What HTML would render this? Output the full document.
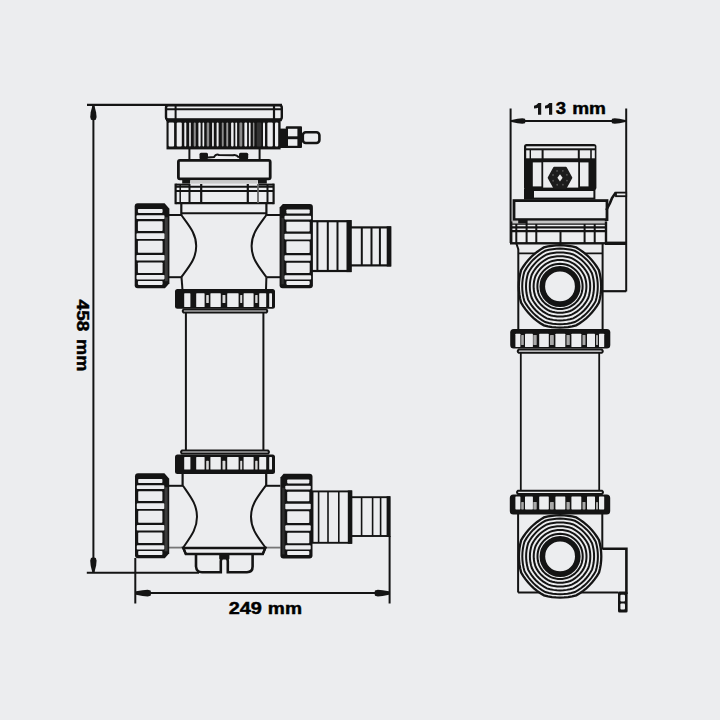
<!DOCTYPE html>
<html><head><meta charset="utf-8"><style>
html,body{margin:0;padding:0;background:#ecedef;}
svg{display:block;}
</style></head><body>
<svg width="720" height="720" viewBox="0 0 720 720">
<rect width="720" height="720" fill="#ecedef"/>
<line x1="87.00" y1="104.90" x2="282.00" y2="104.90" stroke="#141414" stroke-width="2.1"/>
<line x1="93.40" y1="105.00" x2="93.40" y2="572.60" stroke="#141414" stroke-width="2.0"/>
<polygon points="92.30,106.00 90.71,112.17 90.20,116.96 90.97,119.70 93.40,120.30 95.83,119.70 96.60,116.96 96.09,112.17 94.50,106.00" fill="#141414"/>
<polygon points="94.50,572.00 96.09,565.65 96.60,560.72 95.83,557.90 93.40,557.30 90.97,557.90 90.20,560.72 90.71,565.65 92.30,572.00" fill="#141414"/>
<line x1="86.80" y1="572.70" x2="199.00" y2="572.70" stroke="#141414" stroke-width="2.0"/>
<line x1="135.30" y1="558.00" x2="135.30" y2="603.50" stroke="#141414" stroke-width="2.0"/>
<line x1="389.60" y1="536.00" x2="389.60" y2="603.50" stroke="#141414" stroke-width="2.0"/>
<line x1="135.30" y1="593.00" x2="389.60" y2="593.00" stroke="#141414" stroke-width="2.0"/>
<polygon points="136.00,594.85 142.57,595.96 147.68,596.50 150.60,595.68 151.20,593.10 150.60,590.52 147.68,589.70 142.57,590.24 136.00,591.35" fill="#141414"/>
<polygon points="389.00,591.35 382.70,590.24 377.80,589.70 375.00,590.52 374.40,593.10 375.00,595.68 377.80,596.50 382.70,595.96 389.00,594.85" fill="#141414"/>
<rect x="166.00" y="105.20" width="115.80" height="14.60" rx="2.5" fill="#ecedef" stroke="#141414" stroke-width="2.4"/>
<line x1="166.50" y1="109.20" x2="281.30" y2="109.20" stroke="#141414" stroke-width="2.0"/>
<line x1="175.60" y1="105.00" x2="175.60" y2="119.80" stroke="#141414" stroke-width="2.0"/>
<line x1="274.00" y1="105.00" x2="274.00" y2="119.80" stroke="#141414" stroke-width="2.2"/>
<rect x="166.00" y="118.40" width="115.80" height="2.80" rx="0" fill="#141414"/>
<rect x="166.50" y="119.50" width="114.10" height="29.90" rx="0" fill="#141414"/>
<rect x="168.60" y="122.40" width="5.50" height="24.00" rx="1" fill="#ecedef"/>
<rect x="176.70" y="122.40" width="5.10" height="24.00" rx="1" fill="#ecedef"/>
<rect x="184.30" y="122.40" width="2.00" height="24.00" rx="1" fill="#ecedef"/>
<rect x="189.20" y="122.40" width="1.60" height="24.00" rx="1" fill="#ecedef"/>
<rect x="193.70" y="122.40" width="2.10" height="24.00" rx="1" fill="#8a8a8a"/>
<rect x="198.40" y="122.40" width="2.20" height="24.00" rx="1" fill="#ecedef"/>
<rect x="202.50" y="122.40" width="1.70" height="24.00" rx="1" fill="#ecedef"/>
<rect x="206.70" y="122.40" width="2.50" height="24.00" rx="1" fill="#8a8a8a"/>
<rect x="212.10" y="122.40" width="1.70" height="24.00" rx="1" fill="#ecedef"/>
<rect x="216.60" y="122.40" width="2.00" height="24.00" rx="1" fill="#ecedef"/>
<rect x="221.80" y="122.40" width="1.90" height="24.00" rx="1" fill="#8a8a8a"/>
<rect x="226.30" y="122.40" width="1.90" height="24.00" rx="1" fill="#9a9a9a"/>
<rect x="231.10" y="122.40" width="2.50" height="24.00" rx="1" fill="#ecedef"/>
<rect x="235.30" y="122.40" width="1.80" height="24.00" rx="1" fill="#ecedef"/>
<rect x="239.40" y="122.40" width="2.90" height="24.00" rx="1" fill="#8a8a8a"/>
<rect x="244.40" y="122.40" width="2.70" height="24.00" rx="1" fill="#ecedef"/>
<rect x="248.90" y="122.40" width="1.70" height="24.00" rx="1" fill="#ecedef"/>
<rect x="252.90" y="122.40" width="1.50" height="24.00" rx="1" fill="#8a8a8a"/>
<rect x="256.70" y="122.40" width="4.60" height="24.00" rx="1" fill="#333"/>
<rect x="263.00" y="122.40" width="2.00" height="24.00" rx="1" fill="#ecedef"/>
<rect x="267.40" y="122.40" width="5.40" height="24.00" rx="1" fill="#ecedef"/>
<rect x="275.00" y="122.40" width="3.20" height="24.00" rx="1" fill="#ecedef"/>
<rect x="279.00" y="128.60" width="8.00" height="19.40" rx="0" fill="#141414"/>
<rect x="285.80" y="126.30" width="16.20" height="21.70" rx="1" fill="#141414"/>
<rect x="288.00" y="128.80" width="9.40" height="7.50" rx="0" fill="#ecedef"/>
<rect x="288.00" y="139.20" width="9.40" height="6.60" rx="0" fill="#ecedef"/>
<rect x="302.80" y="132.20" width="16.60" height="10.80" rx="3" fill="#ecedef" stroke="#141414" stroke-width="2.6"/>
<line x1="189.40" y1="148.00" x2="189.40" y2="160.00" stroke="#141414" stroke-width="2.0"/>
<line x1="259.60" y1="148.00" x2="259.60" y2="160.00" stroke="#141414" stroke-width="2.0"/>
<rect x="199.50" y="152.80" width="8.50" height="6.70" rx="1.5" fill="#141414"/>
<rect x="239.00" y="152.80" width="9.20" height="6.70" rx="1.5" fill="#141414"/>
<path d="M208,157.5 L214,157 Q216,153.5 219,155 L233,155.2 Q236,154 239,157.5" fill="none" stroke="#141414" stroke-width="2.0" />
<rect x="178.40" y="160.40" width="91.80" height="18.40" rx="1.5" fill="#ecedef" stroke="#141414" stroke-width="2.8"/>
<rect x="182.20" y="178.00" width="8.00" height="5.50" rx="0" fill="#141414"/>
<rect x="258.00" y="178.00" width="8.80" height="5.50" rx="0" fill="#141414"/>
<rect x="190.50" y="180.20" width="67.00" height="3.40" rx="0" fill="#c9c9c9"/>
<line x1="175.60" y1="184.60" x2="190.00" y2="184.60" stroke="#141414" stroke-width="2.0"/>
<line x1="258.00" y1="184.60" x2="273.60" y2="184.60" stroke="#141414" stroke-width="2.0"/>
<line x1="175.60" y1="186.70" x2="273.60" y2="186.70" stroke="#141414" stroke-width="2.0"/>
<line x1="175.60" y1="191.10" x2="273.60" y2="191.10" stroke="#141414" stroke-width="2.0"/>
<line x1="175.60" y1="203.20" x2="273.60" y2="203.20" stroke="#141414" stroke-width="2.2"/>
<line x1="175.60" y1="183.60" x2="175.60" y2="204.20" stroke="#141414" stroke-width="2.2"/>
<line x1="273.60" y1="183.60" x2="273.60" y2="204.20" stroke="#141414" stroke-width="2.2"/>
<line x1="180.20" y1="184.00" x2="180.20" y2="203.00" stroke="#141414" stroke-width="1.5"/>
<line x1="189.50" y1="184.00" x2="189.50" y2="203.00" stroke="#141414" stroke-width="2.0"/>
<line x1="201.20" y1="184.00" x2="201.20" y2="203.00" stroke="#141414" stroke-width="2.2"/>
<line x1="247.80" y1="184.00" x2="247.80" y2="203.00" stroke="#141414" stroke-width="2.2"/>
<line x1="258.00" y1="184.00" x2="258.00" y2="203.00" stroke="#666" stroke-width="1.8"/>
<line x1="267.50" y1="184.00" x2="267.50" y2="203.00" stroke="#141414" stroke-width="2.0"/>
<line x1="181.30" y1="203.00" x2="181.30" y2="215.00" stroke="#141414" stroke-width="2.2"/>
<line x1="266.40" y1="203.00" x2="266.40" y2="215.00" stroke="#141414" stroke-width="2.2"/>
<line x1="181.30" y1="213.20" x2="266.40" y2="213.20" stroke="#141414" stroke-width="2.0"/>
<line x1="169.00" y1="215.00" x2="181.30" y2="215.00" stroke="#141414" stroke-width="2.0"/>
<line x1="266.40" y1="215.00" x2="280.00" y2="215.00" stroke="#141414" stroke-width="2.0"/>
<line x1="169.00" y1="277.20" x2="181.30" y2="277.20" stroke="#141414" stroke-width="2.0"/>
<line x1="266.40" y1="277.20" x2="280.00" y2="277.20" stroke="#141414" stroke-width="2.0"/>
<path d="M181.3,215 C189.495,226.196 196.2,233.66 196.2,246.1 C196.2,258.53999999999996 189.495,266.004 181.3,277.2" fill="none" stroke="#141414" stroke-width="2.0" />
<path d="M266.4,215 C258.26,226.196 251.6,233.66 251.6,246.1 C251.6,258.53999999999996 258.26,266.004 266.4,277.2" fill="none" stroke="#141414" stroke-width="2.0" />
<line x1="181.50" y1="277.20" x2="182.50" y2="290.00" stroke="#141414" stroke-width="2.0"/>
<line x1="266.40" y1="277.20" x2="266.00" y2="290.00" stroke="#141414" stroke-width="2.0"/>
<path d="M134.70,206.30 Q134.70,203.30 137.70,203.30 L164.60,203.30 L169.40,208.70 L169.40,283.20 L165.00,288.20 L137.70,288.20 Q134.70,288.20 134.70,285.20 Z" fill="#141414"/>
<rect x="164.80" y="217.30" width="3.00" height="63.90" rx="0" fill="#3c3c3c"/>
<rect x="137.90" y="208.91" width="24.70" height="4.01" rx="0.8" fill="#ecedef"/>
<rect x="136.50" y="215.23" width="28.00" height="3.71" rx="0.8" fill="#ecedef"/>
<rect x="137.90" y="221.24" width="24.70" height="9.72" rx="0.8" fill="#ecedef"/>
<rect x="136.50" y="233.27" width="28.00" height="5.71" rx="0.8" fill="#ecedef"/>
<rect x="137.90" y="240.79" width="24.70" height="11.93" rx="0.8" fill="#ecedef"/>
<rect x="136.50" y="255.02" width="28.00" height="5.41" rx="0.8" fill="#ecedef"/>
<rect x="137.90" y="262.54" width="24.70" height="10.42" rx="0.8" fill="#ecedef"/>
<rect x="136.50" y="275.07" width="28.00" height="4.31" rx="0.8" fill="#ecedef"/>
<rect x="137.90" y="280.88" width="24.70" height="4.01" rx="0.8" fill="#ecedef"/>
<path d="M312.90,207.00 Q312.90,204.00 309.90,204.00 L282.80,204.00 L279.60,207.60 L279.60,285.20 Q279.60,288.20 282.60,288.20 L309.90,288.20 Q312.90,288.20 312.90,285.20 Z" fill="#141414"/>
<rect x="281.40" y="218.00" width="2.40" height="66.20" rx="0" fill="#2e2e2e"/>
<rect x="286.40" y="209.57" width="23.30" height="3.98" rx="0.8" fill="#ecedef"/>
<rect x="284.50" y="215.83" width="26.60" height="3.68" rx="0.8" fill="#ecedef"/>
<rect x="286.40" y="221.79" width="23.30" height="9.64" rx="0.8" fill="#ecedef"/>
<rect x="284.50" y="233.72" width="26.60" height="5.67" rx="0.8" fill="#ecedef"/>
<rect x="286.40" y="241.18" width="23.30" height="11.83" rx="0.8" fill="#ecedef"/>
<rect x="284.50" y="255.30" width="26.60" height="5.37" rx="0.8" fill="#ecedef"/>
<rect x="286.40" y="262.75" width="23.30" height="10.34" rx="0.8" fill="#ecedef"/>
<rect x="284.50" y="275.18" width="26.60" height="4.27" rx="0.8" fill="#ecedef"/>
<rect x="286.40" y="280.94" width="23.30" height="3.98" rx="0.8" fill="#ecedef"/>
<rect x="311.80" y="221.20" width="38.90" height="49.80" rx="0" fill="#ecedef" stroke="#141414" stroke-width="2.2"/>
<rect x="346.50" y="220.10" width="4.70" height="52.00" rx="0" fill="#141414"/>
<line x1="317.40" y1="221.20" x2="317.40" y2="271.00" stroke="#141414" stroke-width="2.0"/>
<line x1="327.80" y1="221.20" x2="327.80" y2="271.00" stroke="#141414" stroke-width="2.0"/>
<line x1="337.50" y1="221.20" x2="337.50" y2="271.00" stroke="#141414" stroke-width="2.0"/>
<rect x="350.70" y="227.40" width="39.60" height="38.00" rx="0" fill="#ecedef" stroke="#141414" stroke-width="2.2"/>
<rect x="386.70" y="226.30" width="4.20" height="40.20" rx="0" fill="#141414"/>
<line x1="361.80" y1="227.40" x2="361.80" y2="265.40" stroke="#141414" stroke-width="2.0"/>
<line x1="371.50" y1="227.40" x2="371.50" y2="265.40" stroke="#141414" stroke-width="2.0"/>
<line x1="379.90" y1="227.40" x2="379.90" y2="265.40" stroke="#141414" stroke-width="2.0"/>
<rect x="175.00" y="289.10" width="100.00" height="19.60" rx="2.5" fill="#141414"/>
<path d="M183.70,309.50 L266.30,309.50 Q268.30,311.05 266.30,312.60 L183.70,312.60 Q181.70,311.05 183.70,309.50 Z" fill="#ecedef" stroke="#141414" stroke-width="2.0" />
<rect x="184.20" y="293.20" width="6.20" height="13.80" rx="0.6" fill="#ecedef"/>
<rect x="196.20" y="293.20" width="8.40" height="13.80" rx="0.6" fill="#ecedef"/>
<rect x="210.40" y="293.20" width="10.40" height="13.80" rx="0.6" fill="#ecedef"/>
<rect x="227.20" y="293.20" width="11.40" height="13.80" rx="0.6" fill="#ecedef"/>
<rect x="243.60" y="293.20" width="10.00" height="13.80" rx="0.6" fill="#ecedef"/>
<rect x="259.20" y="293.20" width="7.00" height="13.80" rx="0.6" fill="#ecedef"/>
<rect x="269.20" y="293.20" width="2.80" height="13.80" rx="0.6" fill="#ecedef"/>
<rect x="206.20" y="295.00" width="2.60" height="8.00" rx="0.6" fill="#d8d8d8"/>
<rect x="222.50" y="295.00" width="2.90" height="8.00" rx="0.6" fill="#d8d8d8"/>
<rect x="240.20" y="295.00" width="2.00" height="8.00" rx="0.6" fill="#d8d8d8"/>
<rect x="255.20" y="295.00" width="2.40" height="8.00" rx="0.6" fill="#d8d8d8"/>
<line x1="185.90" y1="313.00" x2="185.90" y2="451.00" stroke="#141414" stroke-width="2.0"/>
<line x1="263.40" y1="313.00" x2="263.40" y2="451.00" stroke="#141414" stroke-width="2.0"/>
<rect x="175.00" y="454.50" width="100.00" height="19.60" rx="2.5" fill="#141414"/>
<path d="M182.00,450.60 L268.00,450.60 Q270.00,452.10 268.00,453.60 L182.00,453.60 Q180.00,452.10 182.00,450.60 Z" fill="#ecedef" stroke="#141414" stroke-width="2.0" />
<rect x="184.20" y="457.00" width="6.20" height="12.50" rx="0.6" fill="#ecedef"/>
<rect x="196.20" y="457.00" width="8.40" height="12.50" rx="0.6" fill="#ecedef"/>
<rect x="210.40" y="457.00" width="10.40" height="12.50" rx="0.6" fill="#ecedef"/>
<rect x="227.20" y="457.00" width="11.40" height="12.50" rx="0.6" fill="#ecedef"/>
<rect x="243.60" y="457.00" width="10.00" height="12.50" rx="0.6" fill="#ecedef"/>
<rect x="259.20" y="457.00" width="7.00" height="12.50" rx="0.6" fill="#ecedef"/>
<rect x="269.20" y="457.00" width="2.80" height="12.50" rx="0.6" fill="#ecedef"/>
<rect x="206.20" y="460.80" width="2.60" height="8.70" rx="0.6" fill="#d8d8d8"/>
<rect x="222.50" y="460.80" width="2.90" height="8.70" rx="0.6" fill="#d8d8d8"/>
<rect x="240.20" y="460.80" width="2.00" height="8.70" rx="0.6" fill="#d8d8d8"/>
<rect x="255.20" y="460.80" width="2.40" height="8.70" rx="0.6" fill="#d8d8d8"/>
<line x1="182.60" y1="474.00" x2="182.60" y2="486.00" stroke="#141414" stroke-width="2.2"/>
<line x1="266.20" y1="474.00" x2="266.20" y2="486.00" stroke="#141414" stroke-width="2.2"/>
<line x1="169.00" y1="485.80" x2="183.00" y2="485.80" stroke="#141414" stroke-width="2.0"/>
<line x1="265.00" y1="485.80" x2="280.40" y2="485.80" stroke="#141414" stroke-width="2.0"/>
<line x1="169.00" y1="547.60" x2="183.30" y2="547.60" stroke="#777" stroke-width="1.8"/>
<line x1="265.30" y1="547.60" x2="280.40" y2="547.60" stroke="#777" stroke-width="1.8"/>
<path d="M183,485.8 C190.7,496.96 197.0,504.4 197.0,516.8 C197.0,529.1999999999999 190.7,536.64 183,547.8" fill="none" stroke="#141414" stroke-width="2.0" />
<path d="M265.6,485.8 C257.57,496.96 251.0,504.4 251.0,516.8 C251.0,529.1999999999999 257.57,536.64 265.6,547.8" fill="none" stroke="#141414" stroke-width="2.0" />
<path d="M183.3,548 L265.3,548 L262.8,554 L185.8,554 Z" fill="none" stroke="#141414" stroke-width="2.2" />
<path d="M196,554.5 L196,566.5 Q196.5,572.2 202,572.2 L220.8,572.2 L220.8,561 Q221,557.5 224.3,557.5 Q227.8,557.5 227.8,561 L227.8,572.2 L247,572.2 Q252.6,572.2 252.6,566.5 L252.6,554.5" fill="none" stroke="#141414" stroke-width="2.6" />
<rect x="219.20" y="554.00" width="10.20" height="5.50" rx="1" fill="#141414"/>
<path d="M183.3,548 L265.3,548 L262.8,554 L185.8,554 Z" fill="none" stroke="#141414" stroke-width="2.4" />
<path d="M135.00,476.30 Q135.00,473.30 138.00,473.30 L164.40,473.30 L169.20,478.70 L169.20,553.30 L164.80,558.30 L138.00,558.30 Q135.00,558.30 135.00,555.30 Z" fill="#141414"/>
<rect x="164.60" y="487.30" width="3.00" height="64.00" rx="0" fill="#3c3c3c"/>
<rect x="138.20" y="478.92" width="24.20" height="4.01" rx="0.8" fill="#ecedef"/>
<rect x="136.80" y="485.24" width="27.50" height="3.71" rx="0.8" fill="#ecedef"/>
<rect x="138.20" y="491.26" width="24.20" height="9.73" rx="0.8" fill="#ecedef"/>
<rect x="136.80" y="503.31" width="27.50" height="5.72" rx="0.8" fill="#ecedef"/>
<rect x="138.20" y="510.83" width="24.20" height="11.94" rx="0.8" fill="#ecedef"/>
<rect x="136.80" y="525.08" width="27.50" height="5.42" rx="0.8" fill="#ecedef"/>
<rect x="138.20" y="532.61" width="24.20" height="10.44" rx="0.8" fill="#ecedef"/>
<rect x="136.80" y="545.15" width="27.50" height="4.32" rx="0.8" fill="#ecedef"/>
<rect x="138.20" y="550.97" width="24.20" height="4.01" rx="0.8" fill="#ecedef"/>
<path d="M312.50,476.80 Q312.50,473.80 309.50,473.80 L283.60,473.80 L280.40,477.40 L280.40,555.40 Q280.40,558.40 283.40,558.40 L309.50,558.40 Q312.50,558.40 312.50,555.40 Z" fill="#141414"/>
<rect x="282.20" y="487.80" width="2.40" height="66.60" rx="0" fill="#2e2e2e"/>
<rect x="287.20" y="479.39" width="22.10" height="4.00" rx="0.8" fill="#ecedef"/>
<rect x="285.30" y="485.69" width="25.40" height="3.70" rx="0.8" fill="#ecedef"/>
<rect x="287.20" y="491.68" width="22.10" height="9.69" rx="0.8" fill="#ecedef"/>
<rect x="285.30" y="503.66" width="25.40" height="5.69" rx="0.8" fill="#ecedef"/>
<rect x="287.20" y="511.16" width="22.10" height="11.89" rx="0.8" fill="#ecedef"/>
<rect x="285.30" y="525.34" width="25.40" height="5.39" rx="0.8" fill="#ecedef"/>
<rect x="287.20" y="532.83" width="22.10" height="10.39" rx="0.8" fill="#ecedef"/>
<rect x="285.30" y="545.32" width="25.40" height="4.29" rx="0.8" fill="#ecedef"/>
<rect x="287.20" y="551.11" width="22.10" height="4.00" rx="0.8" fill="#ecedef"/>
<rect x="312.50" y="491.40" width="38.90" height="51.40" rx="0" fill="#ecedef" stroke="#141414" stroke-width="1.9"/>
<rect x="347.80" y="490.45" width="4.10" height="53.30" rx="0" fill="#141414"/>
<line x1="318.60" y1="491.40" x2="318.60" y2="542.80" stroke="#141414" stroke-width="1.6"/>
<line x1="328.00" y1="491.40" x2="328.00" y2="542.80" stroke="#141414" stroke-width="1.6"/>
<line x1="338.80" y1="491.40" x2="338.80" y2="542.80" stroke="#141414" stroke-width="1.6"/>
<rect x="351.40" y="497.20" width="38.20" height="38.80" rx="0" fill="#ecedef" stroke="#141414" stroke-width="1.9"/>
<rect x="386.60" y="496.25" width="3.60" height="40.70" rx="0" fill="#141414"/>
<line x1="361.60" y1="497.20" x2="361.60" y2="536.00" stroke="#141414" stroke-width="1.6"/>
<line x1="372.60" y1="497.20" x2="372.60" y2="536.00" stroke="#141414" stroke-width="1.6"/>
<line x1="380.60" y1="497.20" x2="380.60" y2="536.00" stroke="#141414" stroke-width="1.6"/>
<text transform="translate(228.7,613.55) scale(1.207,1)" font-family="Liberation Sans" font-weight="bold" font-size="16.5" fill="#000" stroke="#000" stroke-width="0.45">249</text>
<text transform="translate(267.83,613.55) scale(1.164,1)" font-family="Liberation Sans" font-weight="bold" font-size="16.5" fill="#000" stroke="#000" stroke-width="0.45">mm</text>
<text transform="translate(76.95,299.55) rotate(90) scale(1.154,1)" font-family="Liberation Sans" font-weight="bold" font-size="16.5" fill="#000" stroke="#000" stroke-width="0.45">458</text>
<text transform="translate(76.95,338.97) rotate(90) scale(1.105,1)" font-family="Liberation Sans" font-weight="bold" font-size="16.5" fill="#000" stroke="#000" stroke-width="0.45">mm</text>
<line x1="510.60" y1="108.50" x2="510.60" y2="243.00" stroke="#141414" stroke-width="2.0"/>
<line x1="626.20" y1="108.50" x2="626.20" y2="291.50" stroke="#141414" stroke-width="2.0"/>
<line x1="510.60" y1="121.00" x2="626.20" y2="121.00" stroke="#141414" stroke-width="2.0"/>
<polygon points="511.50,122.10 517.58,123.35 522.30,123.80 525.00,123.13 525.60,121.00 525.00,118.87 522.30,118.20 517.58,118.65 511.50,119.90" fill="#141414"/>
<polygon points="625.50,119.90 619.42,118.65 614.70,118.20 612.00,118.87 611.40,121.00 612.00,123.13 614.70,123.80 619.42,123.35 625.50,122.10" fill="#141414"/>
<polygon points="538.40,103.00 541.20,103.00 541.20,114.70 538.00,114.70 538.00,107.70 536.40,108.30 534.00,108.50 534.00,105.70 536.20,104.90" fill="#141414"/>
<polygon points="549.40,103.00 552.20,103.00 552.20,114.70 549.00,114.70 549.00,107.70 547.40,108.30 545.00,108.50 545.00,105.70 547.20,104.90" fill="#141414"/>
<text transform="translate(555.8,114.35) scale(1.12,1)" font-family="Liberation Sans" font-weight="bold" font-size="16.5" fill="#000" stroke="#000" stroke-width="0.45">3</text>
<text transform="translate(572.24,114.35) scale(1.15,1)" font-family="Liberation Sans" font-weight="bold" font-size="16.5" fill="#000" stroke="#000" stroke-width="0.45">mm</text>
<rect x="524.00" y="144.00" width="72.40" height="46.00" rx="2.5" fill="#141414"/>
<rect x="526.20" y="146.30" width="68.60" height="2.00" rx="0" fill="#ecedef"/>
<rect x="526.20" y="150.30" width="3.40" height="8.00" rx="0" fill="#ecedef"/>
<rect x="531.00" y="150.30" width="10.60" height="8.00" rx="0" fill="#ecedef"/>
<rect x="543.60" y="150.30" width="34.20" height="8.00" rx="0" fill="#ecedef"/>
<rect x="579.80" y="150.30" width="10.40" height="8.00" rx="0" fill="#ecedef"/>
<rect x="591.80" y="150.30" width="3.00" height="8.00" rx="0" fill="#ecedef"/>
<rect x="532.80" y="162.40" width="8.60" height="24.00" rx="0" fill="#ecedef"/>
<rect x="543.20" y="162.20" width="35.00" height="25.40" rx="0" fill="#ecedef"/>
<rect x="580.00" y="162.40" width="8.50" height="24.00" rx="0" fill="#ecedef"/>
<polygon points="548.70,177.80 554.20,167.80 565.80,167.80 571.30,177.80 565.80,187.80 554.20,187.80" fill="#1c1c1c" stroke="#1c1c1c" stroke-width="2" stroke-linejoin="round"/>
<circle cx="566.95" cy="180.61" r="0.9" fill="#555"/>
<circle cx="562.93" cy="184.70" r="0.9" fill="#555"/>
<circle cx="557.19" cy="184.75" r="0.9" fill="#555"/>
<circle cx="553.10" cy="180.73" r="0.9" fill="#555"/>
<circle cx="553.05" cy="174.99" r="0.9" fill="#555"/>
<circle cx="557.07" cy="170.90" r="0.9" fill="#555"/>
<circle cx="562.81" cy="170.85" r="0.9" fill="#555"/>
<circle cx="566.90" cy="174.87" r="0.9" fill="#555"/>
<polygon points="560.00,174.20 562.60,177.80 560.00,181.40 557.40,177.80" fill="#e8e8e8"/>
<rect x="525.00" y="190.00" width="69.40" height="8.60" rx="0" fill="#ecedef" stroke="#141414" stroke-width="2.0"/>
<rect x="524.50" y="189.00" width="9.50" height="9.00" rx="0" fill="#141414"/>
<rect x="514.00" y="200.60" width="93.00" height="19.00" rx="0" fill="#ecedef" stroke="#141414" stroke-width="2.8"/>
<path d="M606.4,210 L610,203 L612,198 L615.8,192.4" fill="none" stroke="#141414" stroke-width="2.6" />
<rect x="616.00" y="192.60" width="10.20" height="3.60" rx="0" fill="#ecedef" stroke="#141414" stroke-width="1.8"/>
<rect x="511.20" y="222.60" width="94.80" height="20.70" rx="0" fill="#ecedef" stroke="#141414" stroke-width="2.4"/>
<rect x="512.40" y="220.60" width="92.40" height="3.60" rx="0" fill="#c4c4c4"/>
<rect x="518.20" y="219.00" width="8.40" height="4.40" rx="0" fill="#141414"/>
<line x1="511.20" y1="224.10" x2="606.00" y2="224.10" stroke="#141414" stroke-width="1.3"/>
<line x1="511.20" y1="227.30" x2="606.00" y2="227.30" stroke="#141414" stroke-width="2.2"/>
<line x1="511.20" y1="231.20" x2="606.00" y2="231.20" stroke="#141414" stroke-width="2.2"/>
<line x1="516.30" y1="224.00" x2="516.30" y2="243.30" stroke="#141414" stroke-width="2.0"/>
<line x1="526.60" y1="219.00" x2="526.60" y2="243.30" stroke="#141414" stroke-width="2.0"/>
<line x1="536.30" y1="224.00" x2="536.30" y2="243.30" stroke="#141414" stroke-width="2.0"/>
<line x1="560.50" y1="231.00" x2="560.50" y2="243.30" stroke="#141414" stroke-width="2.0"/>
<line x1="584.60" y1="224.00" x2="584.60" y2="243.30" stroke="#141414" stroke-width="2.0"/>
<line x1="594.70" y1="224.00" x2="594.70" y2="243.30" stroke="#141414" stroke-width="2.0"/>
<rect x="605.00" y="241.60" width="21.20" height="3.40" rx="0" fill="#141414"/>
<line x1="516.30" y1="243.30" x2="518.30" y2="249.20" stroke="#141414" stroke-width="2.0"/>
<line x1="518.30" y1="249.00" x2="518.30" y2="330.00" stroke="#141414" stroke-width="2.0"/>
<line x1="602.60" y1="243.00" x2="602.60" y2="330.00" stroke="#141414" stroke-width="2.0"/>
<line x1="602.60" y1="291.20" x2="626.20" y2="291.20" stroke="#141414" stroke-width="2.2"/>
<line x1="518.30" y1="253.30" x2="602.60" y2="253.30" stroke="#141414" stroke-width="1.8"/>
<path d="M601.20,286.40 L601.06,290.44 L600.63,294.48 L599.93,298.51 L598.95,302.53 L596.80,306.07 L594.45,309.42 L591.89,312.57 L589.13,315.53 L586.17,318.29 L583.02,320.85 L579.67,323.20 L576.13,325.35 L572.11,326.33 L568.08,327.03 L564.04,327.46 L560.00,327.60 L555.96,327.46 L551.92,327.03 L547.89,326.33 L543.87,325.35 L540.33,323.20 L536.98,320.85 L533.83,318.29 L530.87,315.53 L528.11,312.57 L525.55,309.42 L523.20,306.07 L521.05,302.53 L520.07,298.51 L519.37,294.48 L518.94,290.44 L518.80,286.40 L518.94,282.36 L519.37,278.32 L520.07,274.29 L521.05,270.27 L523.20,266.73 L525.55,263.38 L528.11,260.23 L530.87,257.27 L533.83,254.51 L536.98,251.95 L540.33,249.60 L543.87,247.45 L547.89,246.47 L551.92,245.77 L555.96,245.34 L560.00,245.20 L564.04,245.34 L568.08,245.77 L572.11,246.47 L576.13,247.45 L579.67,249.60 L583.02,251.95 L586.17,254.51 L589.13,257.27 L591.89,260.23 L594.45,263.38 L596.80,266.73 L598.95,270.27 L599.93,274.29 L600.63,278.32 L601.06,282.36 Z" fill="#ecedef" stroke="#141414" stroke-width="2.3" />
<path d="M597.80,286.40 L597.66,290.11 L597.25,293.81 L596.57,297.49 L595.63,301.16 L593.70,304.42 L591.58,307.50 L589.25,310.41 L586.73,313.13 L584.01,315.65 L581.10,317.98 L578.02,320.10 L574.76,322.03 L571.09,322.97 L567.41,323.65 L563.71,324.06 L560.00,324.20 L556.29,324.06 L552.59,323.65 L548.91,322.97 L545.24,322.03 L541.98,320.10 L538.90,317.98 L535.99,315.65 L533.27,313.13 L530.75,310.41 L528.42,307.50 L526.30,304.42 L524.37,301.16 L523.43,297.49 L522.75,293.81 L522.34,290.11 L522.20,286.40 L522.34,282.69 L522.75,278.99 L523.43,275.31 L524.37,271.64 L526.30,268.38 L528.42,265.30 L530.75,262.39 L533.27,259.67 L535.99,257.15 L538.90,254.82 L541.98,252.70 L545.24,250.77 L548.91,249.83 L552.59,249.15 L556.29,248.74 L560.00,248.60 L563.71,248.74 L567.41,249.15 L571.09,249.83 L574.76,250.77 L578.02,252.70 L581.10,254.82 L584.01,257.15 L586.73,259.67 L589.25,262.39 L591.58,265.30 L593.70,268.38 L595.63,271.64 L596.57,275.31 L597.25,278.99 L597.66,282.69 Z" fill="none" stroke="#141414" stroke-width="2.0" />
<path d="M594.00,286.40 L593.87,289.74 L593.48,293.06 L592.84,296.36 L591.95,299.63 L590.26,302.58 L588.38,305.37 L586.31,307.99 L584.04,310.44 L581.59,312.71 L578.97,314.78 L576.18,316.66 L573.23,318.35 L569.96,319.24 L566.66,319.88 L563.34,320.27 L560.00,320.40 L556.66,320.27 L553.34,319.88 L550.04,319.24 L546.77,318.35 L543.82,316.66 L541.03,314.78 L538.41,312.71 L535.96,310.44 L533.69,307.99 L531.62,305.37 L529.74,302.58 L528.05,299.63 L527.16,296.36 L526.52,293.06 L526.13,289.74 L526.00,286.40 L526.13,283.06 L526.52,279.74 L527.16,276.44 L528.05,273.17 L529.74,270.22 L531.62,267.43 L533.69,264.81 L535.96,262.36 L538.41,260.09 L541.03,258.02 L543.82,256.14 L546.77,254.45 L550.04,253.56 L553.34,252.92 L556.66,252.53 L560.00,252.40 L563.34,252.53 L566.66,252.92 L569.96,253.56 L573.23,254.45 L576.18,256.14 L578.97,258.02 L581.59,260.09 L584.04,262.36 L586.31,264.81 L588.38,267.43 L590.26,270.22 L591.95,273.17 L592.84,276.44 L593.48,279.74 L593.87,283.06 Z" fill="none" stroke="#141414" stroke-width="2.0" />
<path d="M590.20,286.40 L590.08,289.36 L589.71,292.31 L589.09,295.23 L588.25,298.10 L586.81,300.73 L585.18,303.23 L583.36,305.57 L581.35,307.75 L579.17,309.76 L576.83,311.58 L574.33,313.21 L571.70,314.65 L568.83,315.49 L565.91,316.11 L562.96,316.48 L560.00,316.60 L557.04,316.48 L554.09,316.11 L551.17,315.49 L548.30,314.65 L545.67,313.21 L543.17,311.58 L540.83,309.76 L538.65,307.75 L536.64,305.57 L534.82,303.23 L533.19,300.73 L531.75,298.10 L530.91,295.23 L530.29,292.31 L529.92,289.36 L529.80,286.40 L529.92,283.44 L530.29,280.49 L530.91,277.57 L531.75,274.70 L533.19,272.07 L534.82,269.57 L536.64,267.23 L538.65,265.05 L540.83,263.04 L543.17,261.22 L545.67,259.59 L548.30,258.15 L551.17,257.31 L554.09,256.69 L557.04,256.32 L560.00,256.20 L562.96,256.32 L565.91,256.69 L568.83,257.31 L571.70,258.15 L574.33,259.59 L576.83,261.22 L579.17,263.04 L581.35,265.05 L583.36,267.23 L585.18,269.57 L586.81,272.07 L588.25,274.70 L589.09,277.57 L589.71,280.49 L590.08,283.44 Z" fill="none" stroke="#141414" stroke-width="2.0" />
<path d="M586.40,286.40 L586.28,288.99 L585.94,291.56 L585.37,294.10 L584.58,296.58 L583.38,298.90 L581.99,301.09 L580.42,303.16 L578.67,305.07 L576.76,306.82 L574.69,308.39 L572.50,309.78 L570.18,310.98 L567.70,311.77 L565.16,312.34 L562.59,312.68 L560.00,312.80 L557.41,312.68 L554.84,312.34 L552.30,311.77 L549.82,310.98 L547.50,309.78 L545.31,308.39 L543.24,306.82 L541.33,305.07 L539.58,303.16 L538.01,301.09 L536.62,298.90 L535.42,296.58 L534.63,294.10 L534.06,291.56 L533.72,288.99 L533.60,286.40 L533.72,283.81 L534.06,281.24 L534.63,278.70 L535.42,276.22 L536.62,273.90 L538.01,271.71 L539.58,269.64 L541.33,267.73 L543.24,265.98 L545.31,264.41 L547.50,263.02 L549.82,261.82 L552.30,261.03 L554.84,260.46 L557.41,260.12 L560.00,260.00 L562.59,260.12 L565.16,260.46 L567.70,261.03 L570.18,261.82 L572.50,263.02 L574.69,264.41 L576.76,265.98 L578.67,267.73 L580.42,269.64 L581.99,271.71 L583.38,273.90 L584.58,276.22 L585.37,278.70 L585.94,281.24 L586.28,283.81 Z" fill="none" stroke="#141414" stroke-width="2.0" />
<path d="M582.60,286.40 L582.50,288.62 L582.18,290.81 L581.66,292.97 L580.94,295.08 L579.96,297.07 L578.80,298.96 L577.47,300.74 L575.98,302.38 L574.34,303.87 L572.56,305.20 L570.67,306.36 L568.68,307.34 L566.57,308.06 L564.41,308.58 L562.22,308.90 L560.00,309.00 L557.78,308.90 L555.59,308.58 L553.43,308.06 L551.32,307.34 L549.33,306.36 L547.44,305.20 L545.66,303.87 L544.02,302.38 L542.53,300.74 L541.20,298.96 L540.04,297.07 L539.06,295.08 L538.34,292.97 L537.82,290.81 L537.50,288.62 L537.40,286.40 L537.50,284.18 L537.82,281.99 L538.34,279.83 L539.06,277.72 L540.04,275.73 L541.20,273.84 L542.53,272.06 L544.02,270.42 L545.66,268.93 L547.44,267.60 L549.33,266.44 L551.32,265.46 L553.43,264.74 L555.59,264.22 L557.78,263.90 L560.00,263.80 L562.22,263.90 L564.41,264.22 L566.57,264.74 L568.68,265.46 L570.67,266.44 L572.56,267.60 L574.34,268.93 L575.98,270.42 L577.47,272.06 L578.80,273.84 L579.96,275.73 L580.94,277.72 L581.66,279.83 L582.18,281.99 L582.50,284.18 Z" fill="none" stroke="#141414" stroke-width="2.0" />
<circle cx="560" cy="286.4" r="17.7" fill="none" stroke="#141414" stroke-width="5.6"/>
<rect x="510.20" y="329.10" width="100.10" height="19.30" rx="3.5" fill="#141414"/>
<path d="M518.70,349.60 L601.80,349.60 Q603.80,351.20 601.80,352.80 L518.70,352.80 Q516.70,351.20 518.70,349.60 Z" fill="#ecedef" stroke="#141414" stroke-width="2.0" />
<rect x="515.40" y="333.70" width="5.00" height="13.30" rx="0.6" fill="#ecedef"/>
<rect x="525.00" y="333.70" width="7.90" height="13.30" rx="0.6" fill="#ecedef"/>
<rect x="539.20" y="333.70" width="9.60" height="13.30" rx="0.6" fill="#ecedef"/>
<rect x="555.40" y="333.70" width="9.90" height="13.30" rx="0.6" fill="#ecedef"/>
<rect x="571.40" y="333.70" width="9.90" height="13.30" rx="0.6" fill="#ecedef"/>
<rect x="587.00" y="333.70" width="8.00" height="13.30" rx="0.6" fill="#ecedef"/>
<rect x="599.00" y="333.70" width="5.20" height="13.30" rx="0.6" fill="#ecedef"/>
<rect x="521.20" y="335.00" width="2.60" height="10.00" rx="0.6" fill="#a8a8a8"/>
<rect x="533.30" y="335.00" width="3.40" height="10.00" rx="0.6" fill="#a8a8a8"/>
<rect x="550.00" y="335.00" width="3.80" height="10.00" rx="0.6" fill="#a8a8a8"/>
<rect x="566.50" y="335.00" width="3.30" height="10.00" rx="0.6" fill="#a8a8a8"/>
<rect x="582.50" y="335.00" width="3.00" height="10.00" rx="0.6" fill="#a8a8a8"/>
<rect x="596.00" y="335.00" width="2.00" height="10.00" rx="0.6" fill="#a8a8a8"/>
<line x1="520.80" y1="353.00" x2="520.80" y2="491.00" stroke="#141414" stroke-width="1.8"/>
<line x1="599.20" y1="353.00" x2="599.20" y2="491.00" stroke="#141414" stroke-width="1.8"/>
<rect x="509.80" y="494.40" width="100.40" height="20.00" rx="3.5" fill="#141414"/>
<path d="M518.00,490.80 L602.00,490.80 Q604.00,492.35 602.00,493.90 L518.00,493.90 Q516.00,492.35 518.00,490.80 Z" fill="#ecedef" stroke="#141414" stroke-width="2.0" />
<rect x="515.40" y="496.50" width="5.00" height="12.90" rx="0.6" fill="#ecedef"/>
<rect x="525.00" y="496.50" width="7.90" height="12.90" rx="0.6" fill="#ecedef"/>
<rect x="539.20" y="496.50" width="9.60" height="12.90" rx="0.6" fill="#ecedef"/>
<rect x="555.40" y="496.50" width="9.90" height="12.90" rx="0.6" fill="#ecedef"/>
<rect x="571.40" y="496.50" width="9.90" height="12.90" rx="0.6" fill="#ecedef"/>
<rect x="587.00" y="496.50" width="8.00" height="12.90" rx="0.6" fill="#ecedef"/>
<rect x="599.00" y="496.50" width="5.20" height="12.90" rx="0.6" fill="#ecedef"/>
<rect x="521.20" y="502.00" width="2.60" height="7.40" rx="0.6" fill="#a8a8a8"/>
<rect x="533.30" y="502.00" width="3.40" height="7.40" rx="0.6" fill="#a8a8a8"/>
<rect x="550.00" y="502.00" width="3.80" height="7.40" rx="0.6" fill="#a8a8a8"/>
<rect x="566.50" y="502.00" width="3.30" height="7.40" rx="0.6" fill="#a8a8a8"/>
<rect x="582.50" y="502.00" width="3.00" height="7.40" rx="0.6" fill="#a8a8a8"/>
<rect x="596.00" y="502.00" width="2.00" height="7.40" rx="0.6" fill="#a8a8a8"/>
<line x1="518.10" y1="514.00" x2="518.10" y2="592.50" stroke="#141414" stroke-width="2.0"/>
<line x1="602.30" y1="514.00" x2="602.30" y2="549.00" stroke="#141414" stroke-width="2.0"/>
<line x1="518.10" y1="592.50" x2="618.50" y2="592.50" stroke="#141414" stroke-width="2.2"/>
<path d="M601.30,556.40 L601.16,560.44 L600.73,564.48 L600.03,568.51 L599.05,572.53 L596.90,576.07 L594.55,579.42 L591.99,582.57 L589.23,585.53 L586.27,588.29 L583.12,590.85 L579.77,593.20 L576.23,595.35 L572.21,596.33 L568.18,597.03 L564.14,597.46 L560.10,597.60 L556.06,597.46 L552.02,597.03 L547.99,596.33 L543.97,595.35 L540.43,593.20 L537.08,590.85 L533.93,588.29 L530.97,585.53 L528.21,582.57 L525.65,579.42 L523.30,576.07 L521.15,572.53 L520.17,568.51 L519.47,564.48 L519.04,560.44 L518.90,556.40 L519.04,552.36 L519.47,548.32 L520.17,544.29 L521.15,540.27 L523.30,536.73 L525.65,533.38 L528.21,530.23 L530.97,527.27 L533.93,524.51 L537.08,521.95 L540.43,519.60 L543.97,517.45 L547.99,516.47 L552.02,515.77 L556.06,515.34 L560.10,515.20 L564.14,515.34 L568.18,515.77 L572.21,516.47 L576.23,517.45 L579.77,519.60 L583.12,521.95 L586.27,524.51 L589.23,527.27 L591.99,530.23 L594.55,533.38 L596.90,536.73 L599.05,540.27 L600.03,544.29 L600.73,548.32 L601.16,552.36 Z" fill="#ecedef" stroke="#141414" stroke-width="2.3" />
<path d="M597.90,556.40 L597.76,560.11 L597.35,563.81 L596.67,567.49 L595.73,571.16 L593.80,574.42 L591.68,577.50 L589.35,580.41 L586.83,583.13 L584.11,585.65 L581.20,587.98 L578.12,590.10 L574.86,592.03 L571.19,592.97 L567.51,593.65 L563.81,594.06 L560.10,594.20 L556.39,594.06 L552.69,593.65 L549.01,592.97 L545.34,592.03 L542.08,590.10 L539.00,587.98 L536.09,585.65 L533.37,583.13 L530.85,580.41 L528.52,577.50 L526.40,574.42 L524.47,571.16 L523.53,567.49 L522.85,563.81 L522.44,560.11 L522.30,556.40 L522.44,552.69 L522.85,548.99 L523.53,545.31 L524.47,541.64 L526.40,538.38 L528.52,535.30 L530.85,532.39 L533.37,529.67 L536.09,527.15 L539.00,524.82 L542.08,522.70 L545.34,520.77 L549.01,519.83 L552.69,519.15 L556.39,518.74 L560.10,518.60 L563.81,518.74 L567.51,519.15 L571.19,519.83 L574.86,520.77 L578.12,522.70 L581.20,524.82 L584.11,527.15 L586.83,529.67 L589.35,532.39 L591.68,535.30 L593.80,538.38 L595.73,541.64 L596.67,545.31 L597.35,548.99 L597.76,552.69 Z" fill="none" stroke="#141414" stroke-width="2.0" />
<path d="M594.10,556.40 L593.97,559.74 L593.58,563.06 L592.94,566.36 L592.05,569.63 L590.36,572.58 L588.48,575.37 L586.41,577.99 L584.14,580.44 L581.69,582.71 L579.07,584.78 L576.28,586.66 L573.33,588.35 L570.06,589.24 L566.76,589.88 L563.44,590.27 L560.10,590.40 L556.76,590.27 L553.44,589.88 L550.14,589.24 L546.87,588.35 L543.92,586.66 L541.13,584.78 L538.51,582.71 L536.06,580.44 L533.79,577.99 L531.72,575.37 L529.84,572.58 L528.15,569.63 L527.26,566.36 L526.62,563.06 L526.23,559.74 L526.10,556.40 L526.23,553.06 L526.62,549.74 L527.26,546.44 L528.15,543.17 L529.84,540.22 L531.72,537.43 L533.79,534.81 L536.06,532.36 L538.51,530.09 L541.13,528.02 L543.92,526.14 L546.87,524.45 L550.14,523.56 L553.44,522.92 L556.76,522.53 L560.10,522.40 L563.44,522.53 L566.76,522.92 L570.06,523.56 L573.33,524.45 L576.28,526.14 L579.07,528.02 L581.69,530.09 L584.14,532.36 L586.41,534.81 L588.48,537.43 L590.36,540.22 L592.05,543.17 L592.94,546.44 L593.58,549.74 L593.97,553.06 Z" fill="none" stroke="#141414" stroke-width="2.0" />
<path d="M590.30,556.40 L590.18,559.36 L589.81,562.31 L589.19,565.23 L588.35,568.10 L586.91,570.73 L585.28,573.23 L583.46,575.57 L581.45,577.75 L579.27,579.76 L576.93,581.58 L574.43,583.21 L571.80,584.65 L568.93,585.49 L566.01,586.11 L563.06,586.48 L560.10,586.60 L557.14,586.48 L554.19,586.11 L551.27,585.49 L548.40,584.65 L545.77,583.21 L543.27,581.58 L540.93,579.76 L538.75,577.75 L536.74,575.57 L534.92,573.23 L533.29,570.73 L531.85,568.10 L531.01,565.23 L530.39,562.31 L530.02,559.36 L529.90,556.40 L530.02,553.44 L530.39,550.49 L531.01,547.57 L531.85,544.70 L533.29,542.07 L534.92,539.57 L536.74,537.23 L538.75,535.05 L540.93,533.04 L543.27,531.22 L545.77,529.59 L548.40,528.15 L551.27,527.31 L554.19,526.69 L557.14,526.32 L560.10,526.20 L563.06,526.32 L566.01,526.69 L568.93,527.31 L571.80,528.15 L574.43,529.59 L576.93,531.22 L579.27,533.04 L581.45,535.05 L583.46,537.23 L585.28,539.57 L586.91,542.07 L588.35,544.70 L589.19,547.57 L589.81,550.49 L590.18,553.44 Z" fill="none" stroke="#141414" stroke-width="2.0" />
<path d="M586.50,556.40 L586.38,558.99 L586.04,561.56 L585.47,564.10 L584.68,566.58 L583.48,568.90 L582.09,571.09 L580.52,573.16 L578.77,575.07 L576.86,576.82 L574.79,578.39 L572.60,579.78 L570.28,580.98 L567.80,581.77 L565.26,582.34 L562.69,582.68 L560.10,582.80 L557.51,582.68 L554.94,582.34 L552.40,581.77 L549.92,580.98 L547.60,579.78 L545.41,578.39 L543.34,576.82 L541.43,575.07 L539.68,573.16 L538.11,571.09 L536.72,568.90 L535.52,566.58 L534.73,564.10 L534.16,561.56 L533.82,558.99 L533.70,556.40 L533.82,553.81 L534.16,551.24 L534.73,548.70 L535.52,546.22 L536.72,543.90 L538.11,541.71 L539.68,539.64 L541.43,537.73 L543.34,535.98 L545.41,534.41 L547.60,533.02 L549.92,531.82 L552.40,531.03 L554.94,530.46 L557.51,530.12 L560.10,530.00 L562.69,530.12 L565.26,530.46 L567.80,531.03 L570.28,531.82 L572.60,533.02 L574.79,534.41 L576.86,535.98 L578.77,537.73 L580.52,539.64 L582.09,541.71 L583.48,543.90 L584.68,546.22 L585.47,548.70 L586.04,551.24 L586.38,553.81 Z" fill="none" stroke="#141414" stroke-width="2.0" />
<path d="M582.70,556.40 L582.60,558.62 L582.28,560.81 L581.76,562.97 L581.04,565.08 L580.06,567.07 L578.90,568.96 L577.57,570.74 L576.08,572.38 L574.44,573.87 L572.66,575.20 L570.77,576.36 L568.78,577.34 L566.67,578.06 L564.51,578.58 L562.32,578.90 L560.10,579.00 L557.88,578.90 L555.69,578.58 L553.53,578.06 L551.42,577.34 L549.43,576.36 L547.54,575.20 L545.76,573.87 L544.12,572.38 L542.63,570.74 L541.30,568.96 L540.14,567.07 L539.16,565.08 L538.44,562.97 L537.92,560.81 L537.60,558.62 L537.50,556.40 L537.60,554.18 L537.92,551.99 L538.44,549.83 L539.16,547.72 L540.14,545.73 L541.30,543.84 L542.63,542.06 L544.12,540.42 L545.76,538.93 L547.54,537.60 L549.43,536.44 L551.42,535.46 L553.53,534.74 L555.69,534.22 L557.88,533.90 L560.10,533.80 L562.32,533.90 L564.51,534.22 L566.67,534.74 L568.78,535.46 L570.77,536.44 L572.66,537.60 L574.44,538.93 L576.08,540.42 L577.57,542.06 L578.90,543.84 L580.06,545.73 L581.04,547.72 L581.76,549.83 L582.28,551.99 L582.60,554.18 Z" fill="none" stroke="#141414" stroke-width="2.0" />
<circle cx="560.1" cy="556.4" r="17.7" fill="none" stroke="#141414" stroke-width="5.6"/>
<path d="M602.3,548.8 L626.4,548.8 L626.4,594" fill="none" stroke="#141414" stroke-width="2.6" />
<rect x="618.00" y="591.60" width="9.60" height="20.80" rx="1.5" fill="#141414"/>
<rect x="620.40" y="594.80" width="4.60" height="6.80" rx="1" fill="#ecedef"/>
<rect x="620.40" y="603.60" width="4.60" height="6.00" rx="1" fill="#ecedef"/>
</svg>
</body></html>
